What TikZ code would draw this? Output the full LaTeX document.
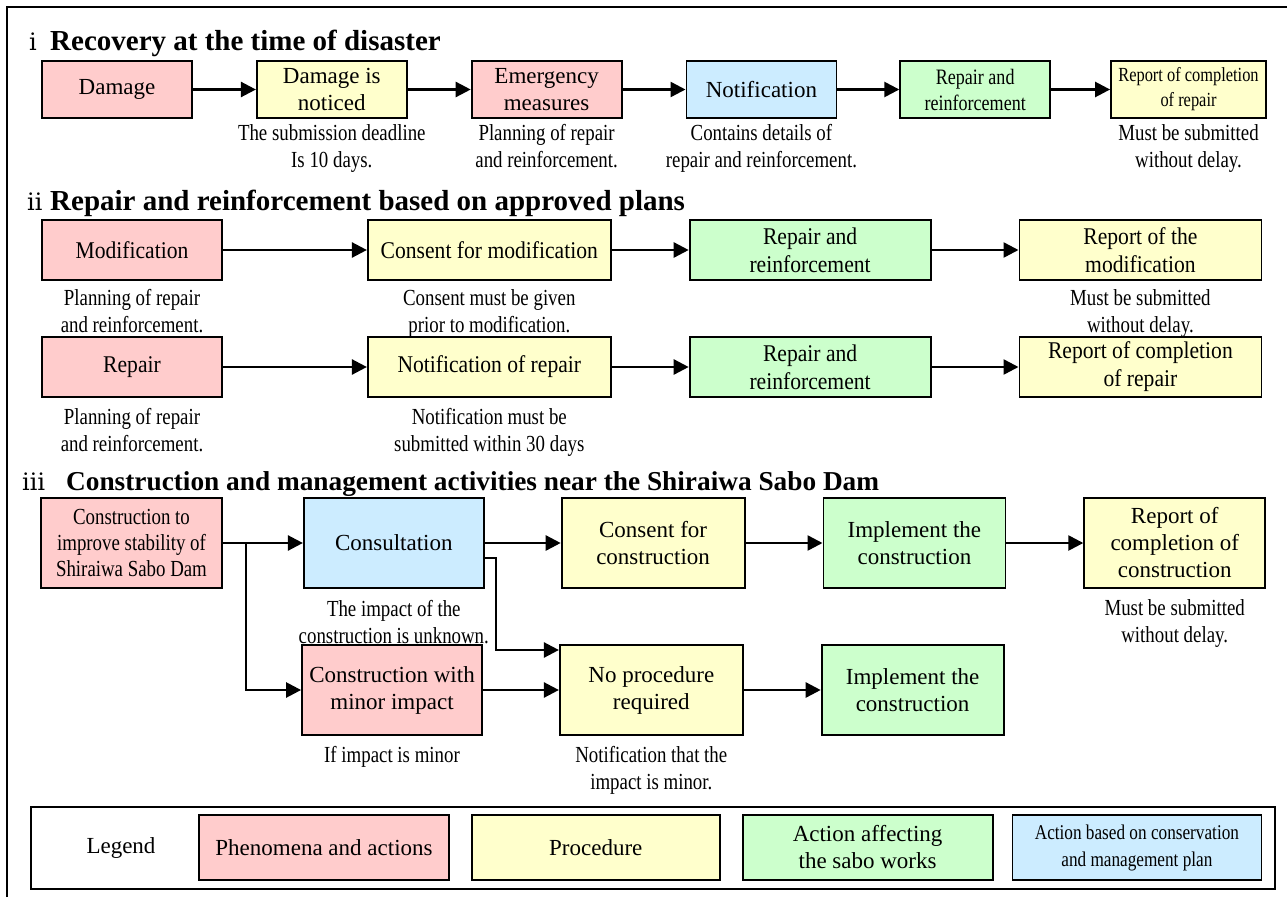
\documentclass[tikz,border=0pt]{standalone}
\usepackage{fontspec}
\setmainfont{Liberation Serif}
\newfontfamily\condfont{Liberation Serif}[FakeStretch=0.82]
\newfontfamily\midfont{Liberation Serif}[FakeStretch=0.9]
\newfontfamily\numfont{DejaVu Serif}
\usepackage{tikz}
\usetikzlibrary{arrows.meta, positioning}

\definecolor{phenfill}{HTML}{FFCCCC}
\definecolor{procfill}{HTML}{FFFFCC}
\definecolor{sabofill}{HTML}{CCFFCC}
\definecolor{planfill}{HTML}{CCECFF}

\begin{document}
\begin{tikzpicture}[
    x=1pt, y=-1pt,
    box/.style={draw, line width=1.8pt, align=center, inner sep=1pt, minimum height=57pt, font=\fontsize{23}{27}\selectfont},
    phen/.style={box, fill=phenfill},
    proc/.style={box, fill=procfill},
    sabo/.style={box, fill=sabofill},
    plan/.style={box, fill=planfill},
    note/.style={align=center, inner sep=0pt, font=\condfont\fontsize{23}{27}\selectfont},
    sectitle/.style={anchor=base west, inner sep=0pt, font=\fontsize{29}{33}\selectfont\bfseries},
    secnum/.style={anchor=base west, inner sep=0pt, font=\numfont\fontsize{24}{28}\selectfont},
    arrow/.style={-{Triangle[length=15pt,width=15pt]}, line width=2.5pt}
]
\useasboundingbox (0,0) rectangle (1287,897);
\draw[line width=2pt] (7,897) -- (7,7) -- (1287,7);

% i
\node[secnum] (numi) at (29,50) {ⅰ};
\node[sectitle] (titlei) at (50,50) {Recovery at the time of disaster};
\node[phen, minimum width=150pt] (dmg) at (117,89.5) {Damage};
\node[proc, minimum width=150pt, right=63pt of dmg] (noticed) {Damage is\\noticed};
\node[phen, minimum width=150pt, right=63pt of noticed] (emerg) {Emergency\\measures};
\node[plan, minimum width=150pt, right=63pt of emerg] (notif) {Notification};
\node[sabo, minimum width=150pt, right=62pt of notif, font=\condfont\fontsize{22}{26}\selectfont] (repi) {Repair and\\reinforcement};
\node[proc, minimum width=155pt, right=59pt of repi, font=\condfont\fontsize{20}{25}\selectfont] (compi) {Report of completion\\of repair};
\node[note, below=5pt of noticed] (noticednote) {The submission deadline\\Is 10 days.};
\node[note, below=5pt of emerg] (emergnote) {Planning of repair\\and reinforcement.};
\node[note, below=5pt of notif] (notifnote) {Contains details of\\repair and reinforcement.};
\node[note, below=5pt of compi] (compinote) {Must be submitted\\without delay.};
\draw[arrow] (dmg) -- (noticed);
\draw[arrow] (noticed) -- (emerg);
\draw[arrow] (emerg) -- (notif);
\draw[arrow] (notif) -- (repi);
\draw[arrow] (repi) -- (compi);

% ii
\node[secnum] (numii) at (27,210) {ⅱ};
\node[sectitle] (titleii) at (50,210) {Repair and reinforcement based on approved plans};
\node[phen, minimum width=180pt, minimum height=60pt, font=\midfont\fontsize{24}{28}\selectfont] (mod) at (132,250) {Modification};
\node[proc, minimum width=243pt, minimum height=60pt, font=\midfont\fontsize{24}{28}\selectfont, right=144pt of mod] (consmod) {Consent for modification};
\node[sabo, minimum width=241pt, minimum height=60pt, font=\midfont\fontsize{24}{28}\selectfont, right=77pt of consmod] (repmod) {Repair and\\reinforcement};
\node[proc, minimum width=242pt, minimum height=60pt, font=\midfont\fontsize{24}{28}\selectfont, right=87pt of repmod] (rptmod) {Report of the\\modification};
\node[note, below=8pt of mod] (modnote) {Planning of repair\\and reinforcement.};
\node[note, below=8pt of consmod] (consmodnote) {Consent must be given\\prior to modification.};
\node[note, below=8pt of rptmod] (rptmodnote) {Must be submitted\\without delay.};
\draw[arrow] (mod) -- (consmod);
\draw[arrow] (consmod) -- (repmod);
\draw[arrow] (repmod) -- (rptmod);

\node[phen, minimum width=180pt, minimum height=60pt, font=\midfont\fontsize{24}{28}\selectfont] (rep) at (132,367) {Repair};
\node[proc, minimum width=243pt, minimum height=60pt, font=\midfont\fontsize{24}{28}\selectfont, right=144pt of rep] (notrep) {Notification of repair};
\node[sabo, minimum width=241pt, minimum height=60pt, font=\midfont\fontsize{24}{28}\selectfont, right=77pt of notrep] (reprep) {Repair and\\reinforcement};
\node[proc, minimum width=242pt, minimum height=60pt, font=\midfont\fontsize{24}{28}\selectfont, right=87pt of reprep] (rptrep) {Report of completion\\of repair};
\node[note, below=10pt of rep] (repnote) {Planning of repair\\and reinforcement.};
\node[note, below=10pt of notrep] (notrepnote) {Notification must be\\submitted within 30 days};
\draw[arrow] (rep) -- (notrep);
\draw[arrow] (notrep) -- (reprep);
\draw[arrow] (reprep) -- (rptrep);

% iii
\node[secnum] (numiii) at (22,490) {ⅲ};
\node[sectitle, font=\fontsize{27.3}{31}\selectfont\bfseries] (titleiii) at (66,490) {Construction and management activities near the Shiraiwa Sabo Dam};
\node[phen, minimum width=181pt, minimum height=90pt, font=\condfont\fontsize{23}{26}\selectfont] (constr) at (131.5,543) {Construction to\\improve stability of\\Shiraiwa Sabo Dam};
\node[plan, minimum width=180pt, minimum height=90pt, right=80pt of constr] (consult) {Consultation};
\node[proc, minimum width=183pt, minimum height=90pt, right=76pt of consult] (conscon) {Consent for\\construction};
\node[sabo, minimum width=182pt, minimum height=90pt, right=77pt of conscon] (implone) {Implement the\\construction};
\node[proc, minimum width=181pt, minimum height=90pt, right=77pt of implone] (rptcon) {Report of\\completion of\\construction};
\node[phen, minimum width=180pt, minimum height=90pt] (minor) at (392,690) {Construction with\\minor impact};
\node[proc, minimum width=183pt, minimum height=90pt, right=76pt of minor] (noproc) {No procedure\\required};
\node[sabo, minimum width=182pt, minimum height=90pt, right=77pt of noproc] (impltwo) {Implement the\\construction};
\node[note, below=11pt of consult] (consultnote) {The impact of the\\construction is unknown.};
\node[note, below=10pt of rptcon] (rptconnote) {Must be submitted\\without delay.};
\node[note, below=10pt of minor] (minornote) {If impact is minor};
\node[note, below=10pt of noproc] (noprocnote) {Notification that the\\impact is minor.};
\coordinate (split) at (246,543);
\coordinate (bend) at (496,650);
\draw[arrow] (constr) -- (consult);
\draw[arrow] (split) |- (minor);
\draw[arrow] (consult) -- (conscon);
\draw[arrow] ([yshift=-15pt]consult.east) -| (bend) -- (bend -| noproc.west);
\draw[arrow] (conscon) -- (implone);
\draw[arrow] (implone) -- (rptcon);
\draw[arrow] (minor) -- (noproc);
\draw[arrow] (noproc) -- (impltwo);

% legend
\node[draw, line width=2pt, minimum width=1244pt, minimum height=82pt] (legend) at (653,848) {};
\node[font=\fontsize{23}{27}\selectfont] (legendtext) at (121,848) {Legend};
\node[phen, minimum width=250pt, minimum height=65pt] (lphen) at (324,847.5) {Phenomena and actions};
\node[proc, minimum width=248pt, minimum height=65pt, right=21pt of lphen] (lproc) {Procedure};
\node[sabo, minimum width=250pt, minimum height=65pt, right=21pt of lproc] (lsabo) {Action affecting\\the sabo works};
\node[plan, minimum width=249pt, minimum height=65pt, right=18pt of lsabo, font=\condfont\fontsize{21}{27}\selectfont] (lplan) {Action based on conservation\\and management plan};
\end{tikzpicture}
\end{document}
